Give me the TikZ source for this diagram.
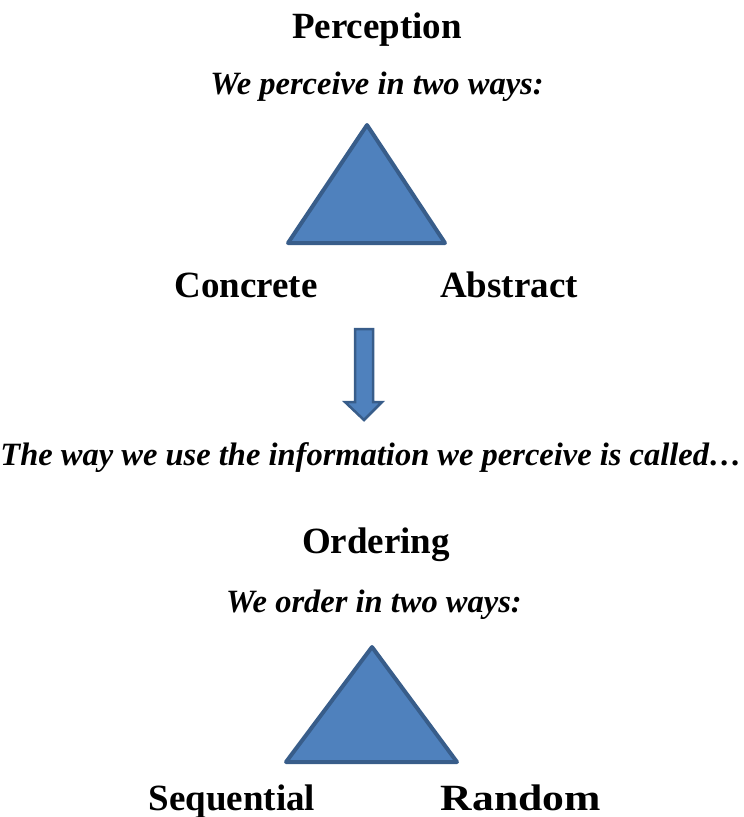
\documentclass[tikz,border=0pt]{standalone}
\usepackage{fontspec}
\setmainfont{Liberation Serif}
\usepackage{tikz}
\usetikzlibrary{positioning}
\definecolor{trifill}{RGB}{79,129,189}
\definecolor{triedge}{RGB}{56,93,138}

\begin{document}
\begin{tikzpicture}[x=1pt, y=-1pt,
  title/.style={font=\fontsize{37}{40}\selectfont\bfseries, anchor=base},
  note/.style={font=\fontsize{32.5}{36}\selectfont\bfseries\itshape, anchor=base},
  tri/.style={fill=trifill, draw=triedge, line width=4pt, line join=round},
  blockarr/.style={fill=trifill, draw=triedge, line width=2.5pt, line join=miter}
]
\useasboundingbox (0,0) rectangle (744,817);
% Perception
\node[title] (perc)  at (377, 38) {Perception};
\node[note]  (percq) at (377, 94) {We perceive in two ways:};
\draw[tri] (367,125) -- (445,243) -- (288,243) -- cycle;
\node[title] (conc) at (246,297) {Concrete};
\node[title] (abst) at (509,297) {Abstract};
% Block arrow
\draw[blockarr] (355,329) -- (373,329) -- (373,402) -- (382,402) -- (364,420)
  -- (345,402) -- (355,402) -- cycle;
\node[note] (use) at (371,465) {The way we use the information we perceive is called\ldots};
% Ordering
\node[title] (ord)  at (376,553) {Ordering};
\node[note]  (ordq) at (374,612) {We order in two ways:};
\draw[tri] (372,647) -- (457,762) -- (286,762) -- cycle;
\node[title] (seq) at (232,810) {Sequential};
\node[title] (rnd) at (521,810) {\scalebox{1.18}[1]{Random}};
\end{tikzpicture}
\end{document}
